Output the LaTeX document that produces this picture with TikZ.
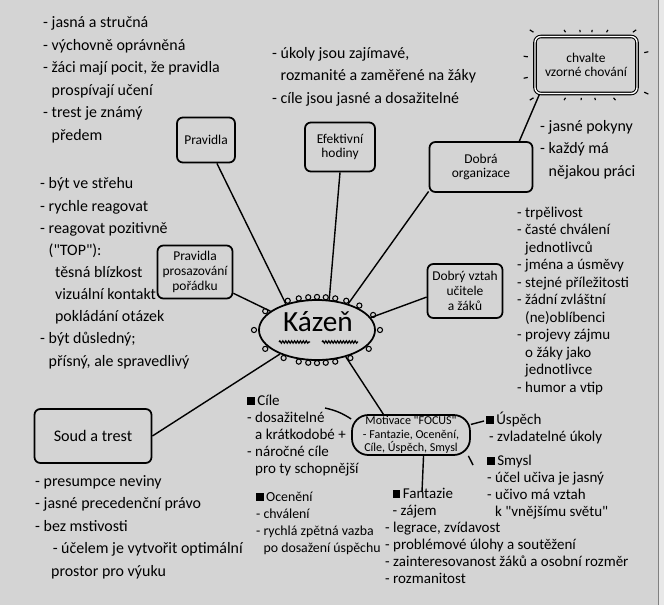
\documentclass[tikz,border=0pt]{standalone}
\usepackage{fontspec}
\setmainfont{Carlito}
\usetikzlibrary{shapes.geometric,calc,decorations.pathmorphing}
\definecolor{paper}{RGB}{212,212,212}
\definecolor{paperedge}{RGB}{232,232,232}
\newcommand{\blt}{\rule{6.5pt}{6.5pt}\,}
\newcommand{\ind}{\hphantom{- }}
\newcommand{\qt}{\textquotedbl}
\tikzset{
  box/.style={draw, line width=1.5pt, rounded corners=5pt, align=center, inner sep=2pt, font=\fontsize{11.5}{12.5}\selectfont},
  link/.style={line width=1.2pt},
  notes/.style={anchor=base west, align=left, inner sep=0pt, font=\fontsize{13.6}{19.2}\selectfont},
  notesm/.style={anchor=base west, align=left, inner sep=0pt, font=\fontsize{12.8}{14.5}\selectfont},
  loopy/.style={line width=0.9pt},
  squig/.style={line width=1pt, decorate, decoration={snake, amplitude=1pt, segment length=2.5pt}},
}
\begin{document}
\begin{tikzpicture}[x=0.03cm,y=-0.03cm]
	% Paper
	\useasboundingbox (0,0) rectangle (664,605);
	\fill[paper] (0,0) rectangle (664,605);
	\fill[paperedge] (658,0) rectangle (664,605);
	\draw[gray, line width=0.6pt] (658,0) -- (658,605);

	% Centre
	\node[ellipse, draw, line width=1.5pt, minimum width=3.48cm, minimum height=1.8cm, inner sep=0pt] (kazen) at (317,330) {};
	\node[font=\fontsize{25}{27}\selectfont, inner sep=0pt] (kazlbl) at (318,322) {Kázeň};
	\foreach \a in {0,15,30,45,60,75,90,105,120,135,160,180,200,220,240,255,270,285,300,320,340}
		\draw[loopy] ($(kazen.center)!1.07!(kazen.\a)$) circle (2.2pt);
	\draw[squig] (279,342) -- (310,342);
	\draw[squig] (322,342) -- (358,342);

	% Boxes
	\node[box, minimum width=1.74cm, minimum height=1.35cm] (pravidla) at (206,140) {Pravidla};
	\node[box, minimum width=2.1cm, minimum height=1.47cm] (efekt) at (340,147) {Efektivní\\hodiny};
	\node[box, minimum width=3.09cm, minimum height=1.5cm] (org) at (481,167) {Dobrá\\organizace};
	\node[box, double, double distance=1.2pt, line width=0.9pt, minimum width=3.06cm, minimum height=1.71cm] (chvalte) at (586,65) {chvalte\\vzorné chování};
	\node[box, minimum width=2.25cm, minimum height=1.59cm] (prosaz) at (195,272) {Pravidla\\prosazování\\pořádku};
	\node[box, minimum width=2.25cm, minimum height=1.62cm] (vztah) at (465,291) {Dobrý vztah\\učitele\\a žáků};
	\node[box, font=\fontsize{13.8}{15}\selectfont, minimum width=3.51cm, minimum height=1.62cm] (soud) at (93,436) {Soud a trest};
	\node[box, rounded corners=14pt, font=\fontsize{10.3}{11.5}\selectfont, minimum width=3.54cm, minimum height=1.2cm, inner sep=1pt] (motiv) at (411,435) {Motivace \qt FOCUS\qt\\- Fantazie, Ocenění,\\Cíle, Úspěch, Smysl};

	% Rays round the praise box
	\foreach \a in {12,35,58,80,100,122,148,172,192,212,238,262,285,310,335}
		\draw[line width=1pt] ($(chvalte.center)!1.13!(chvalte.\a)$) -- ($(chvalte.center)!1.21!(chvalte.\a)$);

	% Connectors
	\draw[link] (pravidla.295) -- (kazen.140);
	\draw[link] (efekt.south) -- (kazen.68);
	\draw[link] (org.205) -- (kazen.40);
	\draw[link] (chvalte.212) -- (org.34);
	\draw[link] (prosaz.331) -- (kazen.158);
	\draw[link] (vztah.189) -- (kazen.13);
	\draw[link] (soud.east) -- (kazen.213);
	\draw[link] (kazen.317) -- (motiv.143);

	% Motivation branches
	\coordinate (cileend) at (325,408);
	\coordinate (uspend) at (484,421);
	\coordinate (smyend) at (473,465);
	\coordinate (fanend) at (422,492);
	\draw[link] (motiv.165) to[bend right=10] (cileend);
	\draw[link] (motiv.10) -- (uspend);
	\draw[link] (motiv.-20) -- (smyend);
	\draw[link] (motiv.-59) -- (fanend);

	% Notes (anchored at the baseline of their last line)
	\node[notes] (rules) at (43,140) {- jasná a stručná\\- výchovně oprávněná\\- žáci mají pocit, že pravidla\\\ind prospívají učení\\- trest je známý\\\ind předem};
	\node[notes] (lessons) at (272,103) {- úkoly jsou zajímavé,\\\ind rozmanité a zaměřené na žáky\\- cíle jsou jasné a dosažitelné};
	\node[notes] (orgnotes) at (540,176) {- jasné pokyny\\- každý má\\\ind nějakou práci};
	\node[notes, font=\fontsize{13.6}{18.9}\selectfont] (respond) at (40,366) {- být ve střehu\\- rychle reagovat\\- reagovat pozitivně\\\ind(\qt TOP\qt):\\\ind\hspace*{0.4em}těsná blízkost\\\ind\hspace*{0.4em}vizuální kontakt\\\ind\hspace*{0.4em}pokládání otázek\\- být důsledný;\\\ind přísný, ale spravedlivý};
	\node[notesm, font=\fontsize{12.8}{14.9}\selectfont] (relnotes) at (517,392) {- trpělivost\\- časté chválení\\\ind jednotlivců\\- jména a úsměvy\\- stejné příležitosti\\- žádní zvláštní\\\ind (ne)oblíbenci\\- projevy zájmu\\\ind o žáky jako\\\ind jednotlivce\\- humor a vtip};
	\node[notes] (soudnotes) at (35,576) {- presumpce neviny\\- jasné precedenční právo\\- bez mstivosti\\\hspace*{1.1em}- účelem je vytvořit optimální\\\hspace*{1em}prostor pro výuku};
	\node[notesm] (cile) at (247,473) {\blt Cíle\\- dosažitelné\\\ind a krátkodobé +\\- náročné cíle\\\ind pro ty schopnější};
	\node[notesm, font=\fontsize{11.8}{14.5}\selectfont] (oceneni) at (256,552) {\blt Ocenění\\- chválení\\- rychlá zpětná vazba\\\ind po dosažení úspěchu};
	\node[notesm] (fantazie) at (385,583) {\hspace*{0.5em}\blt Fantazie\\\hspace*{0.5em}- zájem\\- legrace, zvídavost\\- problémové úlohy a soutěžení\\- zainteresovanost žáků a osobní rozměr\\- rozmanitost};
	\node[notesm] (uspech) at (486,441) {\blt Úspěch\\\hspace*{0.2em}- zvladatelné úkoly};
	\node[notesm] (smysl) at (487,516) {\blt Smysl\\- účel učiva je jasný\\- učivo má vztah\\\ind k \qt vnějšímu světu\qt};
\end{tikzpicture}
\end{document}
